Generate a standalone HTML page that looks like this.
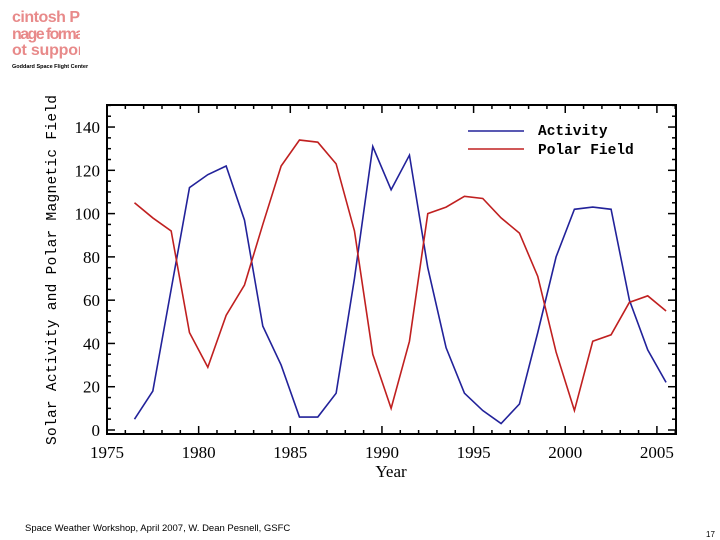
<!DOCTYPE html>
<html><head><meta charset="utf-8"><style>
html,body{margin:0;padding:0;background:#fff;width:720px;height:540px;overflow:hidden}
svg{display:block}
</style></head><body>
<svg width="720" height="540" xmlns="http://www.w3.org/2000/svg">
<g font-family="Liberation Sans, sans-serif" font-size="16" font-weight="bold" fill="#e88a8a">
<text x="12" y="22" textLength="72">cintosh Pl</text><text x="12" y="39" textLength="72">nage forma</text><text x="12" y="55" textLength="72">ot suppor</text>
</g>
<rect x="80" y="0" width="40" height="60" fill="#fff"/>
<text x="12" y="68" font-family="Liberation Sans, sans-serif" font-size="5.5" font-weight="bold">Goddard Space Flight Center</text>
<text transform="translate(56,270) rotate(-90)" text-anchor="middle" font-family="Liberation Mono, monospace" font-size="14.5" textLength="350">Solar Activity and Polar Magnetic Field</text>
<text x="391" y="477" text-anchor="middle" font-family="Liberation Serif, serif" font-size="17">Year</text>
<g id="axes"></g>
<g id="series"></g>
<g>
<line x1="468" y1="131" x2="524" y2="131" stroke="#22229a" stroke-width="1.5"/>
<line x1="468" y1="149" x2="524" y2="149" stroke="#c02020" stroke-width="1.5"/>
<text x="538" y="135" font-family="Liberation Mono, monospace" font-weight="bold" font-size="14.5">Activity</text>
<text x="538" y="154" font-family="Liberation Mono, monospace" font-weight="bold" font-size="14.5">Polar Field</text>
</g>
<text x="25" y="531" font-family="Liberation Sans, sans-serif" font-size="9.5">Space Weather Workshop, April 2007, W. Dean Pesnell, GSFC</text>
<text x="706" y="537" font-family="Liberation Sans, sans-serif" font-size="8">17</text>
</svg>
<script>
const years=[1976.5,1977.5,1978.5,1979.5,1980.5,1981.5,1982.5,1983.5,1984.5,1985.5,1986.5,1987.5,1988.5,1989.5,1990.5,1991.5,1992.5,1993.5,1994.5,1995.5,1996.5,1997.5,1998.5,1999.5,2000.5,2001.5,2002.5,2003.5,2004.5,2005.5];
const activity=[5,18,65,112,118,122,97,48,30,6,6,17,70,131,111,127,75,38,17,9,3,12,45,80,102,103,102,60,37,22];
const polarField=[105,98,92,45,29,53,67,95,122,134,133,123,92,35,10,41,100,103,108,107,98,91,71,36,9,41,44,59,62,55];
const xTicks=[1975,1980,1985,1990,1995,2000,2005];
const yTicks=[0,20,40,60,80,100,120,140];
const L=107,R=676,T=105,B=434;
const X=y=>L+(y-1975)*18.33;
const Y=v=>430-v*2.164;
const NS='http://www.w3.org/2000/svg';
function mk(t,a,p){const e=document.createElementNS(NS,t);for(const k in a)e.setAttribute(k,a[k]);p.appendChild(e);return e;}
const ax=document.getElementById('axes');
const fr=mk('rect',{x:L,y:T,width:R-L,height:B-T,fill:'none',stroke:'#000','stroke-width':2},ax);


for(let yr=1975;yr<=2006;yr++){const x=X(yr);const big=yr%5===0;
mk('line',{x1:x,y1:B,x2:x,y2:B-(big?8:4),stroke:'#000','stroke-width':1.5},ax);
mk('line',{x1:x,y1:T,x2:x,y2:T+(big?8:4),stroke:'#000','stroke-width':1.5},ax);}
xTicks.forEach(t=>{const e=mk('text',{x:X(t),y:458,'text-anchor':'middle','font-family':'Liberation Serif, serif','font-size':17},ax);e.textContent=t;

});
for(let v=0;v<=150;v+=5){const y=Y(v);if(y<T)continue;const big=v%20===0;
mk('line',{x1:L,y1:y,x2:L+(big?8:4),y2:y,stroke:'#000','stroke-width':1.5},ax);
mk('line',{x1:R,y1:y,x2:R-(big?8:4),y2:y,stroke:'#000','stroke-width':1.5},ax);}
yTicks.forEach(t=>{const e=mk('text',{x:100,y:Y(t)+6,'text-anchor':'end','font-family':'Liberation Serif, serif','font-size':17},ax);e.textContent=t;

});
const sg=document.getElementById('series');
function line(vals,col,name){const p=mk('polyline',{points:vals.map((v,i)=>X(years[i])+','+Y(v)).join(' '),fill:'none',stroke:col,'stroke-width':1.6},sg);

}
line(activity,'#22229a','activity-line');
line(polarField,'#c02020','polar-field-line');
</script>
</body></html>
